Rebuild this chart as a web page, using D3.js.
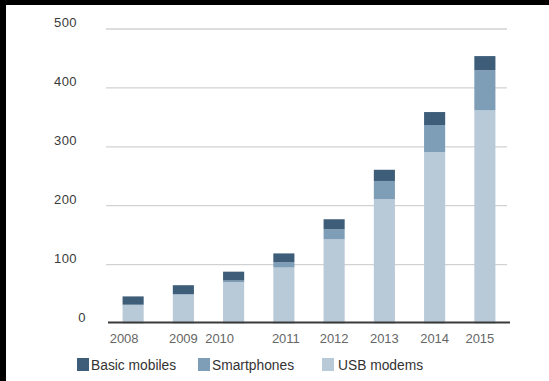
<!DOCTYPE html>
<html>
<head>
<meta charset="utf-8">
<title></title>
<style>
  body { margin: 0; background: #000; }
  svg { display: block; font-family: "Liberation Sans", Arial, sans-serif; }
</style>
</head>
<body>
<svg id="chart" width="549" height="381"></svg>
<script src="https://cdn.jsdelivr.net/npm/d3@7"></script>
<script>
// data (millions)
const years = ["2008", "2009", "2010", "2011", "2012", "2013", "2014", "2015"]
const usbModems = [31, 49, 70, 95, 143, 211, 291, 362]
const smartphones = [1, 1, 3, 9, 17, 31, 46, 68]
const basicMobiles = [14, 15, 15, 15, 17, 19, 22, 24]
const yTicks = [0, 100, 200, 300, 400, 500]
const seriesNames = ["Basic mobiles", "Smartphones", "USB modems"]

// small left shifts of some year labels, as in the original
const yearNudge = [-9, 0, -14, 2, 0, 0, 0, -5]

const colors = {
  "USB modems": "#b8c9d8",
  "Smartphones": "#7e9db7",
  "Basic mobiles": "#3e5d78"
}

const svg = d3.select("#chart")

// white paper with a thin black frame at left and top
svg.append("rect")
  .attr("x", 6).attr("y", 5)
  .attr("width", 549 - 6).attr("height", 381 - 5)
  .attr("fill", "#fff")

const table = years.map((y, i) => ({
  year: y,
  "USB modems": usbModems[i],
  "Smartphones": smartphones[i],
  "Basic mobiles": basicMobiles[i]
}))

const stack = d3.stack().keys(["USB modems", "Smartphones", "Basic mobiles"])
const layers = stack(table)

const x = d3.scaleBand()
  .domain(years)
  .range([108, 510])
  .paddingInner(0.58)
  .paddingOuter(0.29)

const y = d3.scaleLinear()
  .domain([0, 500])
  .range([323.5, 29])

// grid lines
svg.append("g")
  .selectAll("line")
  .data(yTicks.filter(d => d > 0))
  .join("line")
  .attr("x1", 106).attr("x2", 507)
  .attr("y1", d => y(d)).attr("y2", d => y(d))
  .attr("stroke", "#d2d2d2")
  .attr("stroke-width", 1.3)

// y labels
svg.append("g")
  .selectAll("text")
  .data(yTicks)
  .join("text")
  .attr("x", d => d === 0 ? 86 : 77)
  .attr("y", d => y(d) - 2)
  .attr("text-anchor", "end")
  .attr("font-size", 13)
  .attr("letter-spacing", 0.4)
  .attr("fill", "#3a3a3a")
  .text(d => d)

// bars
svg.append("g")
  .selectAll("g")
  .data(layers)
  .join("g")
  .attr("fill", d => colors[d.key])
  .selectAll("rect")
  .data(d => d)
  .join("rect")
  .attr("x", d => x(d.data.year))
  .attr("width", x.bandwidth())
  .attr("y", d => y(d[1]))
  .attr("height", d => y(d[0]) - y(d[1]))

// baseline
svg.append("line")
  .attr("x1", 108).attr("x2", 510)
  .attr("y1", y(0) - 1).attr("y2", y(0) - 1)
  .attr("stroke", "#3a3a3a")
  .attr("stroke-width", 2)

// year labels
svg.append("g")
  .selectAll("text")
  .data(years)
  .join("text")
  .attr("x", (d, i) => x(d) + x.bandwidth() / 2 + yearNudge[i])
  .attr("y", 343)
  .attr("text-anchor", "middle")
  .attr("font-size", 13)
  .attr("fill", "#666")
  .text(d => d)

// legend
const legendX = [77, 198, 322]
const legend = svg.append("g")
  .selectAll("g")
  .data(seriesNames)
  .join("g")
  .attr("transform", (d, i) => `translate(${legendX[i]},358)`)

legend.append("rect")
  .attr("width", 12).attr("height", 13)
  .attr("fill", d => colors[d])

legend.append("text")
  .attr("x", d => d === "USB modems" ? 16 : 14)
  .attr("y", 12)
  .attr("font-size", 13.8)
  .attr("fill", "#333")
  .text(d => d)
</script>
</body>
</html>
